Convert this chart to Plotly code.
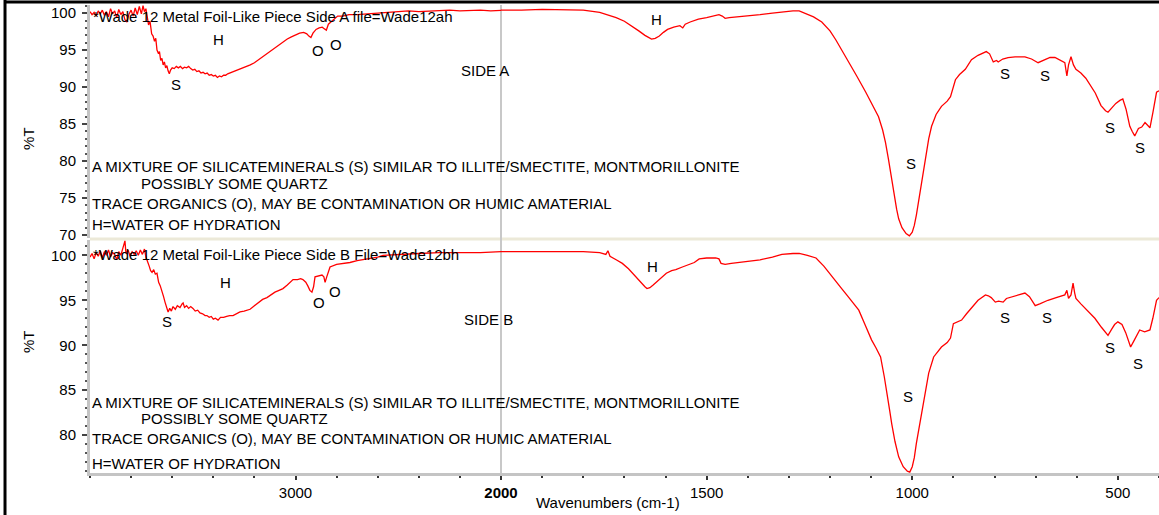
import plotly.graph_objects as go
from plotly.subplots import make_subplots

# ---------------- data ----------------
side_a_wn = [4000, 3990, 3980, 3970, 3960, 3950, 3940, 3930, 3920, 3910, 3900, 3890, 3880, 3870, 3860, 3850,
             3840, 3830, 3820, 3810, 3800, 3790, 3780, 3770, 3760, 3750, 3742, 3735, 3728, 3722, 3715, 3708,
             3700, 3693, 3686, 3680, 3674, 3668, 3662, 3656, 3650, 3644, 3638, 3632, 3626, 3620, 3614, 3608,
             3600, 3590, 3580, 3570, 3560, 3550, 3540, 3530, 3520, 3510, 3500, 3490, 3480, 3470, 3460, 3450,
             3440, 3430, 3420, 3410, 3400, 3390, 3380, 3370, 3360, 3350, 3340, 3330, 3320, 3310, 3300, 3280,
             3260, 3240, 3220, 3200, 3180, 3160, 3140, 3120, 3100, 3080, 3060, 3040, 3020, 3000, 2980, 2960,
             2945, 2935, 2925, 2915, 2900, 2885, 2870, 2860, 2850, 2840, 2825, 2810, 2795, 2770, 2740, 2700,
             2650, 2600, 2550, 2500, 2450, 2400, 2350, 2300, 2250, 2200, 2150, 2100, 2050, 2000,
             1950, 1900, 1850, 1800, 1760, 1740, 1720, 1700, 1680, 1665, 1650, 1640, 1634, 1625, 1615, 1605,
             1595, 1580, 1565, 1558, 1552, 1540, 1520, 1500, 1485, 1470, 1462, 1455, 1445, 1420, 1400, 1370,
             1340, 1310, 1290, 1275, 1260, 1240, 1220, 1200, 1186, 1170, 1154, 1135, 1113, 1095, 1082, 1072,
             1065, 1058, 1053, 1045, 1038, 1033, 1025, 1015, 1007, 1000, 995, 990, 985, 979, 973, 966,
             960, 953, 942, 929, 915, 907, 900, 895, 885, 871, 856, 840, 820, 812, 803, 795,
             791, 780, 767, 750, 726, 710, 694, 680, 665, 653, 640, 629, 624, 620, 614, 608,
             602, 590, 578, 566, 555, 541, 530, 524, 515, 505, 495, 488, 480, 471, 465, 459,
             450, 442, 434, 428, 422, 415, 406, 400]
side_a_t = [100.2, 99.8, 100.1, 99.6, 100.3, 99.9, 100.4, 99.7, 100.2, 99.5, 100.6, 99.9, 100.3, 99.4, 100.5, 99.8,
            100.2, 99.1, 98.8, 99.9, 100.4, 99.6, 100.7, 99.8, 100.9, 99.9, 101.0, 100.2, 100.6, 99.2, 98.4, 98.9,
            97.2, 96.9, 96.2, 96.6, 95.0, 94.6, 94.8, 93.6, 93.9, 93.0, 93.4, 92.6, 92.9, 92.2, 91.8, 92.3,
            92.6, 92.5, 92.8, 92.6, 92.8, 92.5, 92.7, 92.6, 92.8, 92.5, 92.3, 92.4, 92.1, 92.2, 91.9, 92.0,
            91.8, 91.9, 91.6, 91.7, 91.5, 91.6, 91.3, 91.5, 91.4, 91.6, 91.6, 91.8, 91.9, 92.1, 92.1, 92.3,
            92.6, 92.8, 93.0, 93.3, 93.7, 94.2, 94.6, 95.0, 95.4, 95.8, 96.1, 96.5, 96.8, 97.1, 97.3, 97.4,
            97.2, 96.9, 96.7, 97.3, 97.8, 98.0, 98.1, 97.9, 97.7, 98.5, 98.9, 99.3, 99.6, 99.6, 99.8, 99.8,
            99.9, 100.0, 100.1, 100.2, 100.3, 100.2, 100.3, 100.3, 100.4, 100.3, 100.4, 100.4, 100.3, 100.4,
            100.4, 100.5, 100.4, 100.4, 100.1, 99.8, 99.4, 98.9, 98.2, 97.6, 97.0, 96.7, 96.5, 96.6, 96.9, 97.4,
            97.8, 98.1, 98.3, 98.0, 98.5, 98.8, 99.2, 99.4, 99.6, 99.8, 99.6, 99.3, 99.4, 99.5, 99.6, 99.8,
            100.0, 100.2, 100.3, 100.3, 100.0, 99.5, 98.8, 97.6, 96.4, 94.9, 93.4, 91.5, 89.3, 87.5, 86.0, 84.2,
            82.5, 80.3, 78.5, 75.8, 73.5, 72.2, 71.0, 70.2, 69.9, 70.4, 71.3, 72.7, 74.5, 76.5, 78.5, 81.0,
            83.0, 84.7, 86.3, 87.4, 88.1, 88.7, 90.0, 91.0, 91.7, 92.4, 93.7, 94.3, 94.8, 94.5, 93.4, 93.6,
            93.4, 93.8, 94.0, 94.1, 94.1, 93.8, 93.3, 93.6, 94.0, 94.0, 93.6, 93.3, 91.5, 93.0, 94.1, 93.0,
            92.4, 91.9, 91.2, 90.2, 89.2, 87.5, 86.8, 86.6, 87.2, 87.8, 88.2, 88.4, 87.0, 84.7, 84.0, 83.4,
            84.4, 84.6, 85.2, 84.8, 84.5, 86.5, 89.3, 89.5]

side_b_wn = [4000, 3990, 3980, 3970, 3960, 3950, 3940, 3930, 3920, 3910, 3900, 3890, 3880, 3870, 3860, 3850,
             3840, 3830, 3825, 3815, 3805, 3795, 3785, 3775, 3765, 3755, 3745, 3735, 3728, 3720, 3712, 3705,
             3698, 3690, 3682, 3674, 3666, 3658, 3650, 3642, 3635, 3628, 3620, 3612, 3604, 3596, 3585, 3575,
             3562, 3552, 3547, 3540, 3530, 3520, 3510, 3499, 3488, 3476, 3465, 3452, 3440, 3431, 3420, 3410,
             3400, 3390, 3377, 3365, 3350, 3335, 3320, 3304, 3290, 3270, 3250, 3235, 3221, 3200, 3180, 3160,
             3139, 3120, 3100, 3080, 3061, 3040, 3020, 3012, 2990, 2975, 2964, 2950, 2940, 2930, 2920, 2912,
             2905, 2890, 2871, 2862, 2856, 2848, 2840, 2832, 2800, 2760, 2735, 2700, 2650, 2600, 2574, 2500,
             2450, 2400, 2300, 2200, 2100, 2000,
             1900, 1800, 1760, 1745, 1740, 1735, 1720, 1705, 1690, 1680, 1670, 1660, 1650, 1645, 1638, 1630,
             1620, 1610, 1598, 1585, 1575, 1559, 1545, 1530, 1518, 1500, 1478, 1470, 1465, 1455, 1440, 1420,
             1397, 1370, 1340, 1317, 1290, 1275, 1255, 1234, 1215, 1195, 1175, 1154, 1130, 1115, 1099, 1088,
             1077, 1068, 1062, 1055, 1050, 1042, 1033, 1022, 1012, 1006, 1000, 995, 990, 983, 977, 968,
             960, 948, 938, 929, 915, 907, 900, 890, 880, 868, 856, 840, 822, 815, 808, 798,
             790, 779, 771, 750, 726, 715, 701, 690, 670, 650, 629, 624, 620, 614, 609, 605,
             602, 590, 580, 568, 556, 540, 530, 524, 515, 508, 500, 490, 481, 475, 469, 462,
             455, 447, 435, 422, 415, 406, 400]
side_b_t = [99.8, 100.2, 99.6, 100.3, 99.9, 100.5, 99.7, 100.4, 100.0, 100.6, 99.8, 100.3, 100.1, 99.5, 100.4, 100.0,
            100.8, 101.6, 100.2, 100.6, 99.9, 100.4, 100.1, 100.5, 100.0, 100.6, 100.1, 100.7, 99.8, 99.4, 98.8, 98.3,
            98.1, 98.4, 97.9, 98.0, 97.0, 96.6, 96.1, 95.4, 94.8, 94.3, 93.7, 94.1, 93.8, 94.3, 94.0, 94.4,
            94.2, 94.6, 94.7, 94.2, 94.4, 94.1, 94.3, 94.1, 93.8, 93.9, 93.6, 93.5, 93.3, 93.3, 93.1, 93.2,
            92.9, 93.0, 92.8, 93.1, 93.1, 93.2, 93.3, 93.3, 93.5, 93.7, 93.8, 93.9, 94.0, 94.4, 94.8, 95.1,
            95.3, 95.6, 95.9, 96.1, 96.3, 96.7, 97.1, 97.3, 97.3, 97.4, 97.3, 97.0, 96.6, 96.1, 95.9, 96.5,
            97.6, 97.7, 97.8, 97.6, 97.0, 97.6, 98.3, 98.7, 99.0, 99.1, 99.2, 99.4, 99.6, 99.8, 100.0, 100.1,
            100.2, 100.2, 100.3, 100.3, 100.3, 100.4,
            100.4, 100.4, 100.3, 100.1, 100.5, 99.9, 99.5, 99.1, 98.5, 98.0, 97.4, 96.9, 96.5, 96.3, 96.4, 96.7,
            97.1, 97.6, 98.0, 98.3, 98.4, 98.7, 98.9, 99.2, 99.6, 99.7, 99.7, 99.6, 99.1, 99.0, 99.1, 99.2,
            99.3, 99.5, 99.8, 100.1, 100.2, 100.2, 100.0, 99.7, 98.8, 97.6, 96.5, 95.3, 93.9, 92.3, 90.6, 89.7,
            88.7, 86.5, 85.0, 82.8, 81.3, 79.3, 77.6, 76.5, 76.0, 75.9, 76.5, 77.5, 79.1, 80.9, 82.4, 84.8,
            86.9, 88.7, 89.3, 89.8, 90.3, 90.8, 92.4, 92.6, 92.8, 93.5, 94.2, 95.0, 95.6, 95.5, 95.3, 94.8,
            94.9, 94.8, 95.2, 95.5, 95.8, 95.4, 94.4, 94.6, 95.0, 95.3, 95.6, 96.1, 95.2, 95.6, 96.9, 95.8,
            95.2, 94.6, 94.1, 93.6, 93.0, 92.0, 91.4, 91.1, 91.8, 92.3, 92.6, 92.3, 91.4, 90.6, 89.8, 90.4,
            91.1, 91.7, 91.5, 91.7, 93.0, 95.0, 95.3]

x_tick_left = [3000]
x_tick_right = [2000, 1500, 1000, 500]
x_ticktext_right = ["<b>2000</b>", "1500", "1000", "500"]
y_ticks_top = [70, 75, 80, 85, 90, 95, 100]
y_ticks_bottom = [80, 85, 90, 95, 100]

title_a = "*Wade 12 Metal Foil-Like Piece Side A file=Wade12ah"
title_b = "*Wade 12 Metal Foil-Like Piece Side B File=Wade12bh"
note_lines = ["A MIXTURE OF SILICATEMINERALS (S) SIMILAR TO ILLITE/SMECTITE, MONTMORILLONITE",
              "POSSIBLY SOME QUARTZ",
              "TRACE ORGANICS (O), MAY BE CONTAMINATION OR HUMIC AMATERIAL",
              "H=WATER OF HYDRATION"]

# ---------------- figure ----------------
FONT = "Liberation Sans, Arial, sans-serif"
RED = "#ff0000"
AXGRAY = "#c4c4c4"
FS = 15

fig = make_subplots(rows=2, cols=2, column_widths=[411, 658], row_heights=[1, 1],
                    horizontal_spacing=0, vertical_spacing=2 / 468)

for row, (wn, t) in enumerate([(side_a_wn, side_a_t), (side_b_wn, side_b_t)], start=1):
    for col in (1, 2):
        fig.add_trace(go.Scatter(x=wn, y=t, mode="lines", line=dict(color=RED, width=1.3),
                                 showlegend=False, hoverinfo="skip"), row=row, col=col)

common_x = dict(showgrid=False, zeroline=False)
fig.update_xaxes(range=[4000, 2000], row=1, col=1, visible=False, **common_x)
fig.update_xaxes(range=[2000, 400], row=1, col=2, visible=False, **common_x)
fig.update_xaxes(range=[4000, 2000], row=2, col=1, showline=True, linecolor=AXGRAY, linewidth=3,
                 ticks="outside", ticklen=4, tickwidth=1.5, tickcolor="#333",
                 tickvals=x_tick_left, ticktext=[str(v) for v in x_tick_left],
                 minor=dict(ticks="outside", ticklen=2, tickwidth=1.5, tickcolor="#333", dtick=200, tick0=2000),
                 tickfont=dict(family=FONT, size=FS, color="#000"), **common_x)
fig.update_xaxes(range=[2000, 400], row=2, col=2, showline=True, linecolor=AXGRAY, linewidth=3,
                 ticks="outside", ticklen=4, tickwidth=1.5, tickcolor="#333",
                 tickvals=x_tick_right, ticktext=x_ticktext_right,
                 minor=dict(ticks="outside", ticklen=2, tickwidth=1.5, tickcolor="#333", dtick=100, tick0=0),
                 tickfont=dict(family=FONT, size=FS, color="#000"), **common_x)

ycommon = dict(showgrid=False, zeroline=False, showline=True, linecolor=AXGRAY, linewidth=3,
               ticks="outside", ticklen=5, tickwidth=1.5, tickcolor="#444",
               minor=dict(ticks="outside", ticklen=2, tickwidth=1.5, tickcolor="#555", dtick=1),
               tickfont=dict(family=FONT, size=FS, color="#000"), ticklabelstandoff=3)
fig.update_yaxes(range=[69.6, 101.1], row=1, col=1, tickvals=y_ticks_top, **ycommon)
fig.update_yaxes(range=[75.8, 101.7], row=2, col=1, tickvals=y_ticks_bottom, **ycommon)
fig.update_yaxes(range=[69.6, 101.1], row=1, col=2, visible=False)
fig.update_yaxes(range=[75.8, 101.7], row=2, col=2, visible=False)

split = 411 / 1069
shapes = [
    dict(type="line", xref="paper", yref="paper", x0=0, x1=1, y0=0.5, y1=0.5,
         line=dict(color="#ece9d8", width=3), layer="below"),
    dict(type="line", xref="paper", yref="paper", x0=split, x1=split, y0=0, y1=1,
         line=dict(color="#c8c8c8", width=2), layer="below"),
    dict(type="line", xref="paper", yref="paper", x0=-0.0795, x1=1.01, y0=1.0064, y1=1.0064,
         line=dict(color="#000", width=3)),
    dict(type="line", xref="paper", yref="paper", x0=-0.0795, x1=-0.0795, y0=-0.1, y1=1.0107,
         line=dict(color="#000", width=3)),
]

ann = []
def txt(text, x, y, xref, yref, xanchor="center", size=FS):
    ann.append(dict(text=text, x=x, y=y, xref=xref, yref=yref, xanchor=xanchor, yanchor="middle",
                    showarrow=False, font=dict(family=FONT, size=size, color="#000")))

txt(title_a, 0.001, 99.6, "paper", "y", "left")
txt(title_b, 0.001, 100.1, "paper", "y3", "left")
top_note_y = [79.3, 77.0, 74.3, 71.4]
bot_note_y = [83.6, 81.9, 79.6, 76.9]
note_x = [0.0, 0.0455, 0.0, 0.0]
for line, xx, ya, yb in zip(note_lines, note_x, top_note_y, bot_note_y):
    txt(line, xx, ya, "paper", "y", "left")
    txt(line, xx, yb, "paper", "y3", "left")

txt("H", 3377, 96.4, "x", "y"); txt("S", 3582, 90.3, "x", "y")
txt("O", 2890, 95.0, "x", "y"); txt("O", 2803, 95.8, "x", "y")
txt("SIDE A", 2078, 92.3, "x", "y")
txt("H", 1622, 99.1, "x2", "y2"); txt("S", 1002, 79.7, "x2", "y2")
txt("S", 774, 91.9, "x2", "y2"); txt("S", 677, 91.6, "x2", "y2")
txt("S", 520, 84.5, "x2", "y2"); txt("S", 445, 81.9, "x2", "y2")
txt("H", 3343, 97.0, "x3", "y3"); txt("S", 3625, 92.6, "x3", "y3")
txt("O", 2886, 94.7, "x3", "y3"); txt("O", 2808, 96.0, "x3", "y3")
txt("SIDE B", 2063, 92.9, "x3", "y3")
txt("H", 1632, 98.7, "x4", "y4"); txt("S", 1011, 84.3, "x4", "y4")
txt("S", 774, 93.1, "x4", "y4"); txt("S", 672, 93.1, "x4", "y4")
txt("S", 520, 89.8, "x4", "y4"); txt("S", 452, 88.0, "x4", "y4")

ann.append(dict(text="%T", x=-0.0674, y=0.7436, xref="paper", yref="paper", showarrow=False,
                textangle=-90, font=dict(family=FONT, size=FS, color="#000")))
ann.append(dict(text="%T", x=-0.0674, y=0.252, xref="paper", yref="paper", showarrow=False,
                textangle=-90, font=dict(family=FONT, size=FS, color="#000")))
ann.append(dict(text="Wavenumbers (cm-1)", x=0.4846, y=-0.062, xref="paper", yref="paper",
                showarrow=False, yanchor="middle", font=dict(family=FONT, size=FS, color="#000")))

fig.update_layout(width=1159, height=515, margin=dict(l=90, r=0, t=5, b=42),
                  paper_bgcolor="#ffffff", plot_bgcolor="#ffffff",
                  shapes=shapes, annotations=ann, showlegend=False,
                  font=dict(family=FONT, size=FS, color="#000"))

fig.write_html("out.html", config={"displayModeBar": False},
               post_script="document.body.style.margin='0';document.body.style.overflow='hidden';")
